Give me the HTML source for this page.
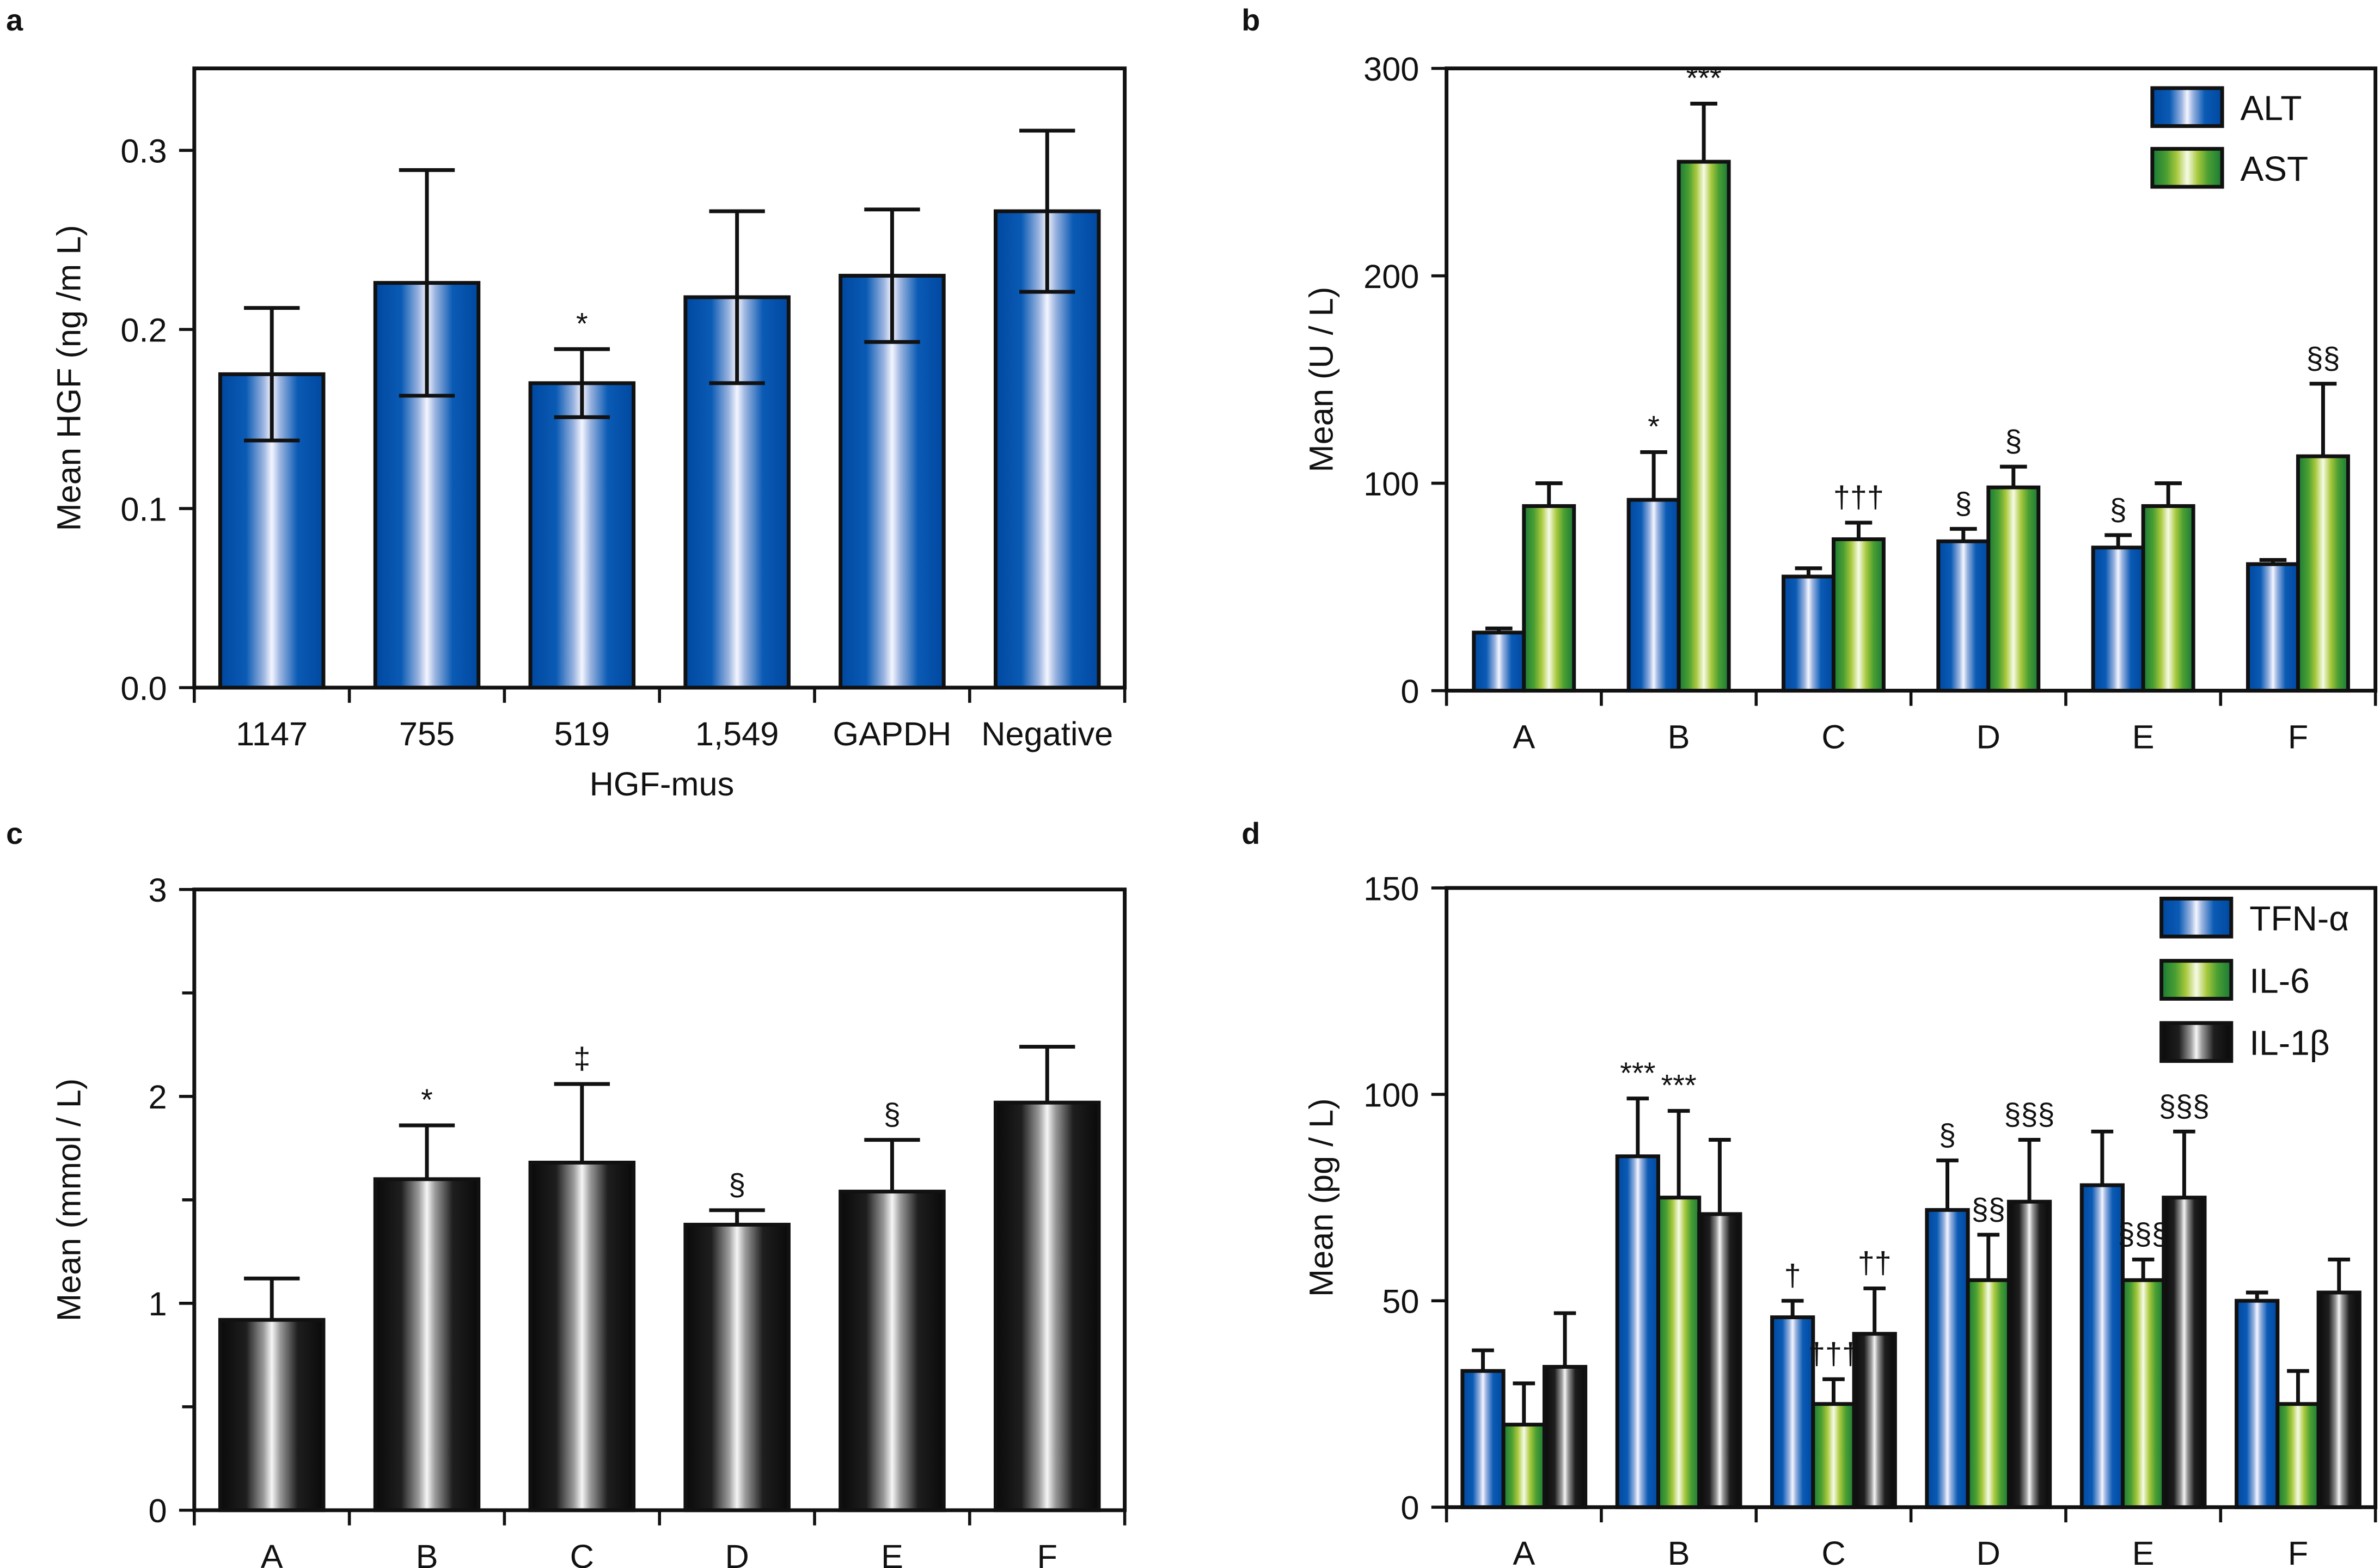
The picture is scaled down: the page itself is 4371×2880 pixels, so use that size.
<!DOCTYPE html>
<html><head><meta charset="utf-8"><style>
html,body{margin:0;padding:0;background:#fff}
svg{display:block}
text{font-family:"Liberation Sans",sans-serif;fill:#111}
</style></head><body>
<svg id="s" width="4371" height="2880" viewBox="0 0 1568 1033" xmlns="http://www.w3.org/2000/svg">
<defs>
<linearGradient id="gb" x1="0" x2="1"><stop offset="0" stop-color="#0048a0"/><stop offset="0.25" stop-color="#0a5ab4"/><stop offset="0.42" stop-color="#9bb4e0"/><stop offset="0.5" stop-color="#f4f6ff"/><stop offset="0.58" stop-color="#9bb4e0"/><stop offset="0.75" stop-color="#0a5ab4"/><stop offset="1" stop-color="#0048a0"/></linearGradient>
<linearGradient id="gg" x1="0" x2="1"><stop offset="0" stop-color="#1a7a36"/><stop offset="0.2" stop-color="#4a9e32"/><stop offset="0.35" stop-color="#a8c83c"/><stop offset="0.5" stop-color="#f6fbe6"/><stop offset="0.65" stop-color="#a8c83c"/><stop offset="0.8" stop-color="#4a9e32"/><stop offset="1" stop-color="#1a7a36"/></linearGradient>
<linearGradient id="gk" x1="0" x2="1"><stop offset="0" stop-color="#0a0a0a"/><stop offset="0.25" stop-color="#1e1e1e"/><stop offset="0.42" stop-color="#9a9a9a"/><stop offset="0.5" stop-color="#f6f6f6"/><stop offset="0.58" stop-color="#9a9a9a"/><stop offset="0.75" stop-color="#1e1e1e"/><stop offset="1" stop-color="#0a0a0a"/></linearGradient>
</defs>
</svg>
<script>
// Panel a
const aCats=["1147","755","519","1,549","GAPDH","Negative"];
const aVals=[0.175,0.226,0.170,0.218,0.230,0.266];
const aErr=[0.037,0.063,0.019,0.048,0.037,0.045];
const aMarks=["","","*","","",""];
const aTicks=[0.0,0.1,0.2,0.3];
// Panel b
const bCats=["A","B","C","D","E","F"];
const bALT=[28,92,55,72,69,61];
const bALTerr=[2,23,4,6,6,2];
const bAST=[89,255,73,98,89,113];
const bASTerr=[11,28,8,10,11,35];
const bALTmarks=["","*","","§","§",""];
const bASTmarks=["","***","†††","§","","§§"];
const bTicks=[0,100,200,300];
// Panel c
const cCats=["A","B","C","D","E","F"];
const cVals=[0.92,1.6,1.68,1.38,1.54,1.97];
const cErr=[0.2,0.26,0.38,0.07,0.25,0.27];
const cMarks=["","*","‡","§","§",""];
const cTicks=[0,1,2,3];
// Panel d
const dCats=["A","B","C","D","E","F"];
const dTNF=[33,85,46,72,78,50];
const dTNFerr=[5,14,4,12,13,2];
const dIL6=[20,75,25,55,55,25];
const dIL6err=[10,21,6,11,5,8];
const dIL1=[34,71,42,74,75,52];
const dIL1err=[13,18,11,15,16,8];
const dTNFmarks=["","***","†","§","",""];
const dIL6marks=["","***","†††","§§","§§§",""];
const dIL1marks=["","","††","§§§","§§§",""];
const dTicks=[0,50,100,150];

const svg=document.getElementById('s');
const NS="http://www.w3.org/2000/svg";
function el(tag,at,txt){const e=document.createElementNS(NS,tag);for(const k in at)e.setAttribute(k,at[k]);if(txt!==undefined)e.textContent=txt;svg.appendChild(e);return e;}
function scale(d0,d1,p0,p1){return v=>p0+(v-d0)/(d1-d0)*(p1-p0);}

function panel(p){
  const y=scale(0,p.max,p.y0,p.yTop);
  const n=p.cats.length,gw=(p.x1-p.x0)/n;
  const fr=el('rect',{x:p.x0,y:p.frameTop,width:p.x1-p.x0,height:p.y0-p.frameTop,fill:'none',stroke:'#111','stroke-width':2.5});
  
  p.ticks.forEach(t=>{
    const ln=el('line',{x1:p.x0-10,x2:p.x0,y1:y(t),y2:y(t),stroke:'#111','stroke-width':2});
    
    const tx=el('text',{x:p.x0-18,y:y(t)+8,'font-size':22,'text-anchor':'end'},p.fmt(t));
    
  });
  if(p.minor)p.minor.forEach(t=>{const ln=el('line',{x1:p.x0-8,x2:p.x0,y1:y(t),y2:y(t),stroke:'#111','stroke-width':2});});
  for(let i=0;i<=n;i++){const ln=el('line',{x1:p.x0+i*gw,x2:p.x0+i*gw,y1:p.y0,y2:p.y0+10,stroke:'#111','stroke-width':2});}
  p.cats.forEach((c,i)=>{const tx=el('text',{x:p.x0+(i+0.5)*gw+(p.labOff||0),y:p.y0+38,'font-size':22,'text-anchor':'middle'},c);});
  const bw=p.bw,k=p.series.length;
  p.series.forEach((s,j)=>{
    s.vals.forEach((v,i)=>{
      const cx=p.x0+(i+0.5)*gw+(j-(k-1)/2)*bw;
      const top=y(v+s.err[i]);
      const e1=el('line',{x1:cx,x2:cx,y1:top,y2:p.bothErr?y(v-s.err[i]):y(v),stroke:'#111','stroke-width':2.5});
      
      const cap=el('line',{x1:cx-bw*0.27,x2:cx+bw*0.27,y1:top,y2:top,stroke:'#111','stroke-width':2.5});
      
      const r=el('rect',{x:cx-bw/2,y:y(v),width:bw,height:p.y0-y(v),fill:'url(#'+s.g+')',stroke:'#111','stroke-width':2.5});
      
      if(p.bothErr){const lo=y(v-s.err[i]);const c2=el('line',{x1:cx-bw*0.27,x2:cx+bw*0.27,y1:lo,y2:lo,stroke:'#111','stroke-width':2.5});
        const e2=el('line',{x1:cx,x2:cx,y1:y(v),y2:lo,stroke:'#111','stroke-width':2.5});}
      if(s.marks&&s.marks[i]){const m=el('text',{x:cx,y:top-10,'font-size':20,'text-anchor':'middle'},s.marks[i]);}
    });
  });
  const yt=el('text',{x:0,y:0,'font-size':22,'text-anchor':'middle',transform:`translate(${p.x0-75},${(p.y0+p.frameTop)/2}) rotate(-90)`},p.ytitle);
  
  if(p.legend){p.series.forEach((s,j)=>{const ly=p.legend.y+j*p.legend.dy;
    const r=el('rect',{x:p.legend.x,y:ly,width:46,height:25,fill:'url(#'+s.g+')',stroke:'#111','stroke-width':2.5});
    const t=el('text',{x:p.legend.x+58,y:ly+21,'font-size':23},s.label);});}
  const L=el('text',{x:p.lab[0],y:p.lab[1],'font-size':20,'font-weight':'bold'},p.id);
}

panel({id:'a',cats:aCats,x0:128,x1:741,y0:453,yTop:99,max:0.3,frameTop:45,ticks:aTicks,fmt:t=>t.toFixed(1),bw:68,bothErr:true,
  series:[{name:'hgf',g:'gb',vals:aVals,err:aErr,marks:aMarks}],ytitle:'Mean HGF (ng /m L)',lab:[4,20]});
const at=el('text',{x:436,y:524,'font-size':22,'text-anchor':'middle'},'HGF-mus');

panel({id:'b',cats:bCats,x0:953,x1:1565,y0:455,yTop:45,max:300,frameTop:45,ticks:bTicks,fmt:t=>t,bw:33,
  series:[{name:'alt',label:'ALT',g:'gb',vals:bALT,err:bALTerr,marks:bALTmarks},{name:'ast',label:'AST',g:'gg',vals:bAST,err:bASTerr,marks:bASTmarks}],
  ytitle:'Mean (U / L)',legend:{x:1418,y:58,dy:40},lab:[818,20]});
panel({id:'c',cats:cCats,x0:128,x1:741,y0:995,yTop:586,max:3,frameTop:586,ticks:cTicks,minor:[0.5,1.5,2.5],fmt:t=>t,bw:68,
  series:[{name:'value',g:'gk',vals:cVals,err:cErr,marks:cMarks}],ytitle:'Mean (mmol / L)',lab:[4,556]});
panel({id:'d',cats:dCats,x0:953,x1:1565,y0:993,yTop:585,max:150,frameTop:585,ticks:dTicks,fmt:t=>t,bw:27,
  series:[{name:'tnf',label:'TFN-α',g:'gb',vals:dTNF,err:dTNFerr,marks:dTNFmarks},{name:'il6',label:'IL-6',g:'gg',vals:dIL6,err:dIL6err,marks:dIL6marks},{name:'il1b',label:'IL-1β',g:'gk',vals:dIL1,err:dIL1err,marks:dIL1marks}],
  ytitle:'Mean (pg / L)',legend:{x:1424,y:592,dy:41},lab:[818,556]});
</script>
</body></html>
